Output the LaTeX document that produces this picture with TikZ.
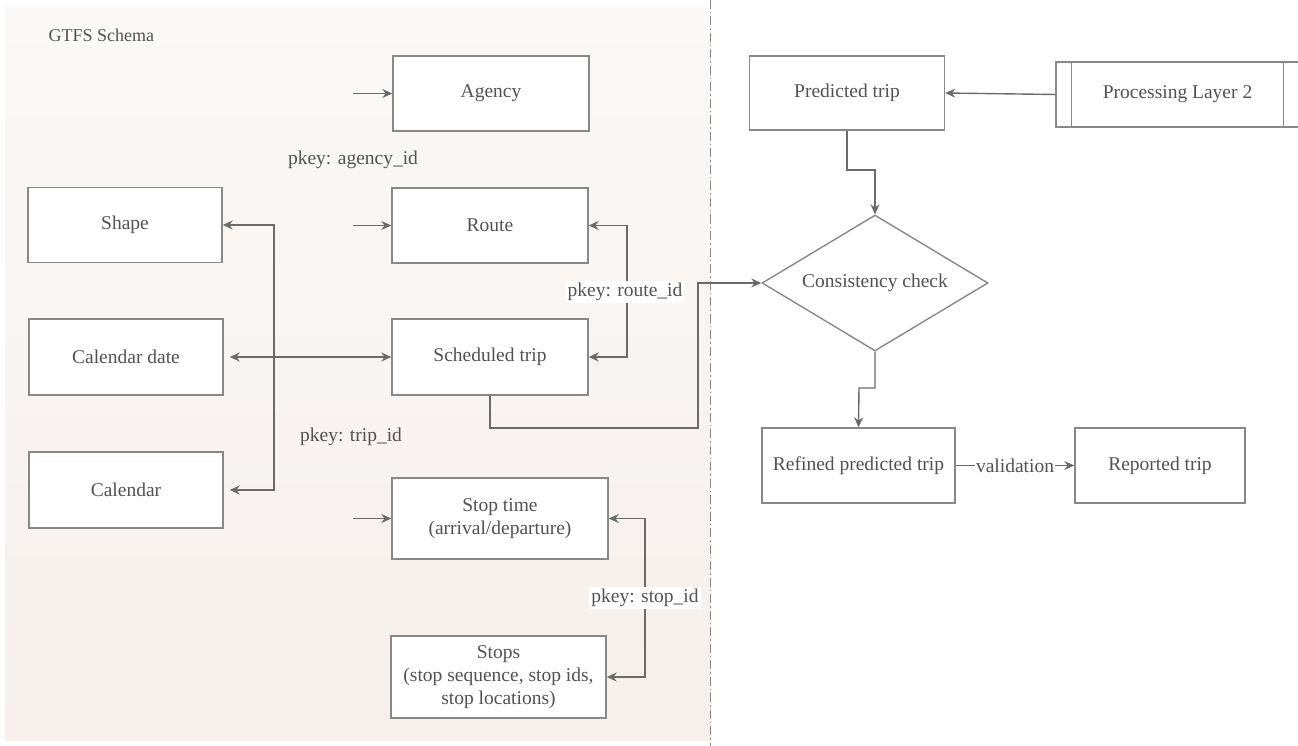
\documentclass[tikz,border=0pt]{standalone}
\usepackage{fontspec}
\setmainfont{Liberation Serif}
\usetikzlibrary{arrows.meta,shapes.geometric,calc}
\definecolor{ln}{HTML}{6A6A6A}
\definecolor{bd}{HTML}{888888}
\definecolor{tx}{HTML}{525252}
\definecolor{bgtop}{HTML}{FAF9F8}
\definecolor{bgbot}{HTML}{F6EFEB}
\begin{document}
\begin{tikzpicture}[x=1pt,y=-1pt,
  font=\fontsize{19.5}{23}\selectfont, text=tx,
  box/.style={draw=bd, line width=1.4pt, fill=white, align=center, inner sep=0pt},
  arr/.style={draw=ln, line width=1.4pt, -{Stealth[length=10pt,width=9pt]}},
  dbl/.style={draw=ln, line width=1.4pt, {Stealth[length=10pt,width=9pt]}-{Stealth[length=10pt,width=9pt]}},
  lbl/.style={fill=white, inner sep=2pt}]
\useasboundingbox (0,0) rectangle (1298,746);
\fill[top color=bgtop, bottom color=bgbot] (5,8) rectangle (711,740);
\draw[bd, line width=1pt, dash pattern=on 9pt off 3pt on 1.5pt off 3pt] (710,0) -- (710,746);

\node[anchor=west, font=\fontsize{18}{22}\selectfont] (title) at (45,35) {GTFS Schema};

% left nodes
\node[box, minimum width=196, minimum height=75] (agency) at (491,93.5) {Agency};
\node[box, minimum width=194, minimum height=75] (shape) at (125,225) {Shape};
\node[box, minimum width=196, minimum height=75] (route) at (490,225.5) {Route};
\node[box, minimum width=194, minimum height=76] (caldate) at (126,357) {Calendar date};
\node[box, minimum width=196, minimum height=76] (sched) at (490,357) {Scheduled trip};
\node[box, minimum width=194, minimum height=76] (calendar) at (126,490) {Calendar};
\node[box, minimum width=216, minimum height=81] (stoptime) at (500,518.5) {Stop time\\(arrival/departure)};
\node[box, minimum width=215, minimum height=82] (stops) at (498.5,677) {Stops\\(stop sequence, stop ids,\\stop locations)};

\node (lagency) at (353,160) {pkey: agency\_id};
\node (ltrip) at (351,437) {pkey: trip\_id};

% right nodes
\node[box, minimum width=195, minimum height=74] (pred) at (847,93) {Predicted trip};
\node[box, minimum width=243, minimum height=65] (proc) at (1177.5,94.5) {Processing Layer 2};
\draw[bd, line width=1.4pt] ($(proc.north west)+(16,0)$) -- ($(proc.south west)+(16,0)$);
\draw[bd, line width=1.4pt] ($(proc.north east)+(-16,0)$) -- ($(proc.south east)+(-16,0)$);
\node[box, diamond, aspect=1.65, minimum width=226, minimum height=136] (check) at (875,283) {Consistency check};
\node[box, minimum width=193, minimum height=75] (refined) at (858.5,465.5) {Refined predicted trip};
\node[box, minimum width=170, minimum height=75] (reported) at (1160,465.5) {Reported trip};

% incoming stubs
\coordinate (ia) at (353,93.5);
\coordinate (ir) at (353,225.5);
\coordinate (ist) at (353,518.5);
\draw[arr] (ia) -- (agency.west);
\draw[arr] (ir) -- (route.west);
\draw[arr] (ist) -- (stoptime.west);

% route <-> scheduled trip
\coordinate (rr) at (627,0);
\draw[dbl] (route.east) -- (route.east -| rr) -- (sched.east -| rr) -- (sched.east);
\node[lbl] (lroute) at (625,292) {pkey: route\_id};

% shape / calendar
\coordinate (sc) at (274,0);
\draw[dbl] (shape.east) -- (shape.east -| sc) -- (calendar.east -| sc) -- ([xshift=6pt]calendar.east);
\draw[dbl] ([xshift=6pt]caldate.east) -- (sched.west);

% stop time <-> stops
\coordinate (sp) at (645,0);
\draw[dbl] (stoptime.east) -- (stoptime.east -| sp) -- (stops.east -| sp) -- (stops.east);
\node[lbl] (lstop) at (645,598) {pkey: stop\_id};

% scheduled trip -> consistency check
\coordinate (c1) at (698,428);
\draw[arr] (sched.south) |- (c1) -- (c1 |- check.west) -- (check.west);

% right flow
\draw[arr] (proc.west) -- (pred.east);
\coordinate (k1) at (875,170);
\draw[arr] (pred.south) |- (k1) -- (check.north);
\coordinate (k2) at (859,388);
\draw[arr] (check.south) |- (k2) -- (refined.north);
\draw[arr] (refined.east) -- node[lbl, inner sep=1pt] (lval) {validation} (reported.west);
\end{tikzpicture}
\end{document}
